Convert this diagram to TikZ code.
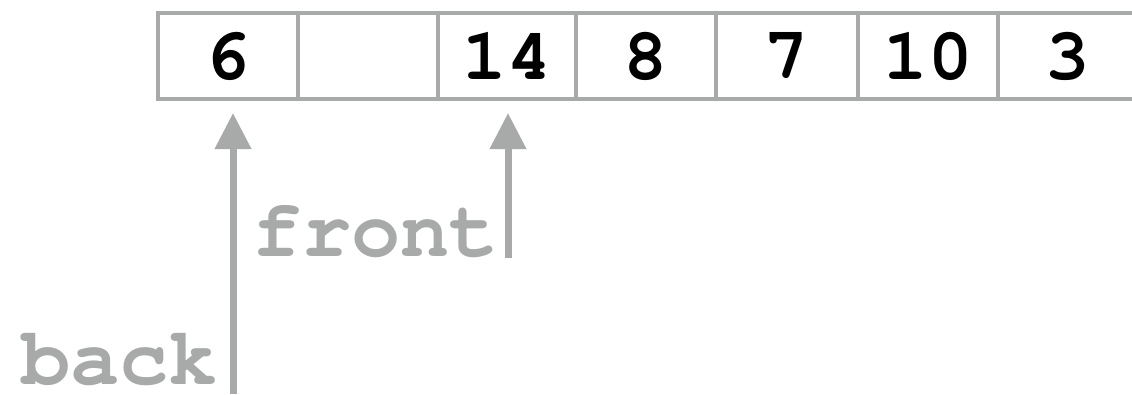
\documentclass[tikz,border=0pt]{standalone}
\usepackage{fontspec}
\setmonofont{TeX Gyre Cursor}
\usetikzlibrary{arrows.meta}
\definecolor{gr}{RGB}{167,170,168}
\begin{document}
\begin{tikzpicture}[x=1pt,y=-1pt,
  cell/.style={draw=gr,line width=4.5pt,minimum height=86pt,inner sep=0pt,font=\fontsize{74}{74}\selectfont\ttfamily\bfseries,text=black},
  lbl/.style={font=\fontsize{82}{82}\selectfont\ttfamily\bfseries,text=gr,inner sep=0pt},
  ptr/.style={draw=gr,line width=7pt,-{Triangle[width=35pt,length=36pt]}}]
\useasboundingbox (0,0) rectangle (1132,394);
\node[cell,minimum width=140pt] (c0) at (228,56) {6};
\node[cell,minimum width=140pt] (c1) at (368,56) {};
\node[cell,minimum width=138pt] (c2) at (507,56) {14};
\node[cell,minimum width=140pt] (c3) at (646,56) {8};
\node[cell,minimum width=142pt] (c4) at (787,56) {7};
\node[cell,minimum width=140pt] (c5) at (928,56) {10};
\node[cell,minimum width=140pt] (c6) at (1068,56) {3};
\coordinate (bk) at (233,394);
\coordinate (ft) at (508,258);
\draw[ptr] (bk) -- (233,113);
\draw[ptr] (ft) -- (508,113);
\node[lbl,anchor=base east] (front) at (499,256) {front};
\node[lbl,anchor=base east] (back) at (218,384) {back};
\end{tikzpicture}
\end{document}
